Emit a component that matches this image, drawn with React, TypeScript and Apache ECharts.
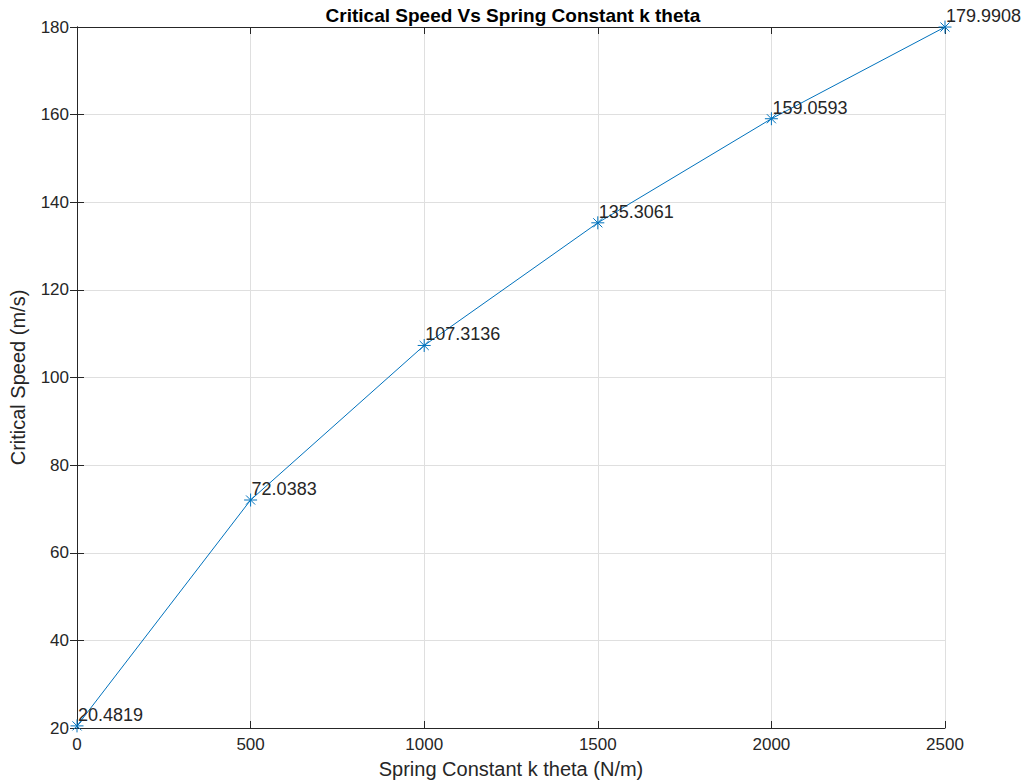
import { useEffect, useRef } from 'react'
import * as echarts from 'echarts'

const kTheta = [0, 500, 1000, 1500, 2000, 2500]
const criticalSpeed = [20.4819, 72.0383, 107.3136, 135.3061, 159.0593, 179.9908]
const pointLabels = ['20.4819', '72.0383', '107.3136', '135.3061', '159.0593', '179.9908']

const FONT = 'Liberation Sans, Arial, Helvetica, sans-serif'
const TXT = '#262626'
const asterisk = 'path://M0,-1L0,1M-1,0L1,0M-0.7,-0.7L0.7,0.7M-0.7,0.7L0.7,-0.7'

export default function App() {
  const chartRef = useRef<HTMLDivElement>(null)

  useEffect(() => {
    if (!chartRef.current) return
    const chart = echarts.init(chartRef.current, null, { renderer: 'svg' })

    const axisLine = { show: true, lineStyle: { color: TXT, width: 1 } }
    const split = { show: true, lineStyle: { color: '#dfdfdf', width: 1 } }
    const tick = { show: true, inside: true, length: 7, lineStyle: { color: TXT } }

    chart.setOption({
      animation: false,
      title: {
        text: 'Critical Speed Vs Spring Constant k theta',
        left: 508, top: 1, textAlign: 'center',
        textStyle: { fontFamily: FONT, fontSize: 19, fontWeight: 'bold', color: '#000' },
      },
      grid: { left: 71, right: 86, top: 27, bottom: 55 },
      xAxis: [
        {
          type: 'value', min: 0, max: 2500, interval: 500,
          name: 'Spring Constant k theta (N/m)', nameLocation: 'middle', nameGap: 31,
          nameTextStyle: { fontFamily: FONT, fontSize: 20, color: TXT },
          axisLine, splitLine: split, axisTick: tick,
          axisLabel: { fontFamily: FONT, fontSize: 17, color: TXT, margin: 8, formatter: (v: number) => String(v) },
        },
        {
          type: 'value', min: 0, max: 2500, interval: 500, position: 'top',
          axisLine, splitLine: { show: false }, axisLabel: { show: false }, axisTick: tick,
        },
      ],
      yAxis: [
        {
          type: 'value', min: 20, max: 180, interval: 20,
          name: 'Critical Speed (m/s)', nameLocation: 'middle', nameGap: 49,
          nameTextStyle: { fontFamily: FONT, fontSize: 20, color: TXT },
          axisLine, splitLine: split, axisTick: tick,
          axisLabel: { fontFamily: FONT, fontSize: 17, color: TXT, margin: 8 },
        },
        {
          type: 'value', min: 20, max: 180, interval: 20, position: 'right',
          axisLine, splitLine: { show: false }, axisLabel: { show: false }, axisTick: tick,
        },
      ],
      series: [
        {
          type: 'line',
          data: kTheta.map((k, i) => [k, criticalSpeed[i]]),
          lineStyle: { color: '#0072BD', width: 1 },
          symbol: asterisk, symbolSize: 13,
          itemStyle: { color: 'transparent', borderColor: '#0072BD', borderWidth: 1 },
          label: {
            show: true, position: 'right', distance: -6, offset: [0, -11],
            fontFamily: FONT, fontSize: 18, color: TXT,
            formatter: (p: any) => pointLabels[p.dataIndex],
          },
        },
      ],
    })

    return () => chart.dispose()
  }, [])

  return (
    <div style={{ position: 'fixed', left: 0, top: 0, width: 1031, height: 784, background: '#fff' }}>
      <div ref={chartRef} style={{ width: 1031, height: 784 }} />
    </div>
  )
}
